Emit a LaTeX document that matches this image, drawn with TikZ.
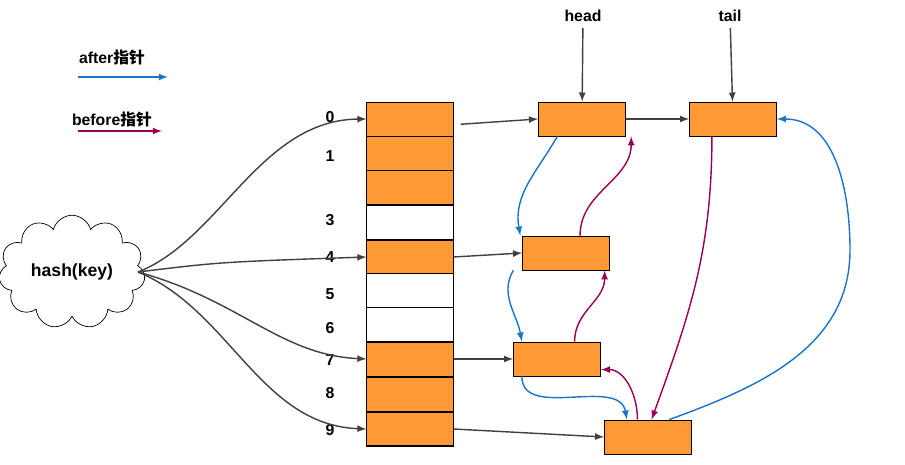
\documentclass[tikz,border=0pt]{standalone}
\usepackage{fontspec}
\setmainfont{Liberation Sans}
\newfontfamily\cjk{Noto Sans CJK SC}
\usetikzlibrary{shapes.symbols}
\definecolor{boxorange}{HTML}{FF9933}
\definecolor{afterblue}{HTML}{1874CD}
\definecolor{beforered}{HTML}{990055}
\begin{document}
\begin{tikzpicture}[x=0.02cm,y=-0.02cm, >=latex,
  cell/.style={draw, minimum width=87*0.02cm, minimum height=34*0.02cm, inner sep=0, outer sep=0},
  entry/.style={draw, fill=boxorange, minimum width=87*0.02cm, minimum height=34*0.02cm, inner sep=0},
  lbl/.style={font=\bfseries\small},
  link/.style={->, thick, black!75},
  after/.style={->, thick, afterblue},
  before/.style={->, thick, beforered}]

  % 画布
  \useasboundingbox (0,0) rectangle (905,465);

  % 图例
  \node[lbl] (alab) at (112,58) {after{\cjk 指针}};
  \coordinate (a1) at (78,77); \coordinate (a2) at (168,77);
  \draw[after] (a1) -- (a2);
  \node[lbl] (blab) at (112,120) {before{\cjk 指针}};
  \coordinate (b1) at (78,131); \coordinate (b2) at (162,131);
  \draw[before] (b1) -- (b2);

  % 数组
  \foreach \i/\y/\c in {0/119/boxorange,1/153/boxorange,2/187/boxorange,3/222/white,4/257/boxorange,
                        5/290/white,6/324/white,7/359/boxorange,8/394/boxorange,9/429/boxorange}
    \node[cell, fill=\c] (r\i) at (410,\y) {};
  \draw[thick] (r9.north west) rectangle (r9.south east);
  \node[lbl] at (330,117) {0};
  \node[lbl] at (330,156) {1};
  \node[lbl] at (330,220) {3};
  \node[lbl] at (330,257) {4};
  \node[lbl] at (330,294) {5};
  \node[lbl] at (330,328) {6};
  \node[lbl] at (330,360) {7};
  \node[lbl] at (330,393) {8};
  \node[lbl] at (330,430) {9};

  % 链表节点
  \node[entry] (head) at (582,119) {};
  \node[entry] (tail) at (733,119) {};
  \node[entry] (n4) at (566,253) {};
  \node[entry] (n7) at (557,359) {};
  \node[entry] (n9) at (648,437) {};
  \node[lbl] (hl) at (583,16) {head};
  \node[lbl] (tl) at (730,16) {tail};
  \draw[link] (hl) -- (head);
  \draw[link] (tl) -- (tail);

  % hash
  \node[cloud, draw, cloud puffs=11, aspect=1.5, minimum width=120*0.02cm, minimum height=86*0.02cm,
        font=\bfseries] (hash) at (72,272) {hash(key)};
  \coordinate (h) at (138,272);
  \draw[link] (h) .. controls (220,240) and (260,120) .. (r0.west);
  \draw[link] (h) .. controls (220,262) .. (r4.west);
  \draw[link] (h) .. controls (240,300) and (280,355) .. (r7.west);
  \draw[link] (h) .. controls (230,310) and (260,425) .. (r9.west);

  % 数组到节点
  \draw[link] ([xshift=4pt,yshift=-3pt]r0.east) -- (head.west);
  \draw[link] (head) -- (tail);
  \draw[link] (r4.east) -- (n4.west);
  \draw[link] (r7.east) -- (n7.west);
  \draw[link] (r9.east) -- (n9.west);

  % after
  \draw[after] ([xshift=-14pt]head.south) to[out=-120,in=100] ([xshift=-26pt]n4.north);
  \draw[after] ([xshift=-30pt]n4.south) to[out=-120,in=100] ([xshift=-20pt]n7.north);
  \draw[after] ([xshift=-20pt]n7.south) to[out=-90,in=100] ([xshift=-12pt]n9.north);
  \draw[after] ([xshift=12pt]n9.north) to[out=20,in=-90] (850,250) to[out=90,in=0] (tail.east);

  % before
  \draw[before] ([xshift=8pt]n4.north) to[out=90,in=-90] ([xshift=28pt]head.south);
  \draw[before] ([xshift=10pt]n7.north) to[out=90,in=-90] ([xshift=22pt]n4.south);
  \draw[before] ([xshift=-6pt]n9.north) to[out=90,in=0] ([yshift=-6pt]n7.east);
  \draw[before] ([xshift=-12pt]tail.south) to[out=-90,in=70] ([xshift=2pt]n9.north);

\end{tikzpicture}
\end{document}
